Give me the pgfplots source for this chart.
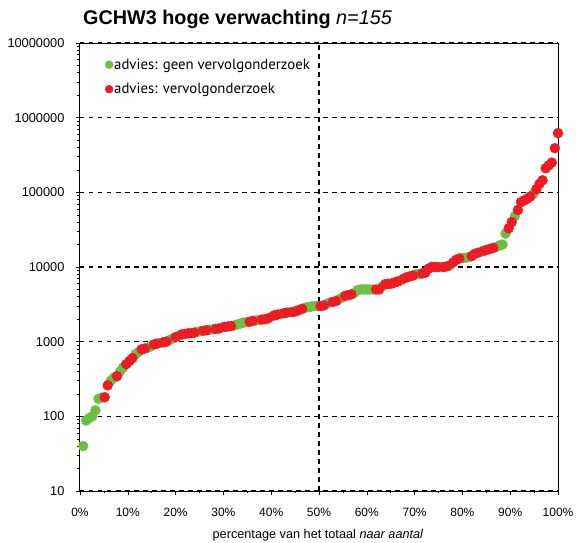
\documentclass[border=0pt]{standalone}
\usepackage{pgfplots}
\pgfplotsset{compat=1.18}
\usepackage{pgfplotstable}
\usepackage{fontspec}
\setmainfont{Liberation Sans}
\newfontfamily\legendfont{PT Sans}
\definecolor{cgreen}{RGB}{110,190,68}
\definecolor{cred}{RGB}{237,28,36}

\pgfplotstableread{
x y
0.65 40
1.29 88
1.94 95
2.58 100
3.23 120
3.87 172
4.52 178
6.45 300
7.10 330
8.39 400
9.03 450
11.61 680
12.26 730
14.19 830
14.84 870
16.77 960
18.71 1050
19.35 1100
20.65 1200
24.52 1350
25.16 1380
27.10 1450
27.74 1460
29.68 1550
32.26 1650
32.90 1700
33.55 1750
34.19 1800
34.84 1820
36.77 1920
37.42 1950
40.00 2150
41.94 2350
43.87 2480
47.10 2850
47.74 2900
48.39 2950
49.03 3000
49.68 3000
51.61 3200
52.26 3350
54.19 3700
54.84 3900
57.42 4500
58.06 4900
58.71 5000
59.35 5000
60.00 5000
60.65 5000
61.29 5000
63.23 5500
67.10 6600
70.32 8000
70.97 8000
75.48 10000
77.42 10500
80.00 13200
80.65 13300
81.29 13500
83.87 16000
87.10 18500
87.74 19500
88.39 20000
89.03 28000
90.97 48000
94.84 95000
}\greendata

\pgfplotstableread{
x y
5.16 180
5.81 260
7.74 345
9.68 500
10.32 550
10.97 600
12.90 790
13.55 810
15.48 920
16.13 940
17.42 980
18.06 1000
20.00 1150
21.29 1250
21.94 1270
22.58 1290
23.23 1300
23.87 1320
25.81 1400
26.45 1420
28.39 1480
29.03 1500
30.32 1580
30.97 1600
31.61 1620
35.48 1850
36.13 1900
38.06 1980
38.71 2000
39.35 2050
40.65 2250
41.29 2300
42.58 2400
43.23 2450
44.52 2500
45.16 2550
45.81 2650
46.45 2750
50.32 3000
50.97 3050
52.90 3400
53.55 3500
55.48 4100
56.13 4200
56.77 4300
61.94 5000
62.58 5000
63.87 5900
64.52 5950
65.16 6000
65.81 6200
66.45 6400
67.74 7000
68.39 7300
69.03 7500
69.68 7700
71.61 8200
72.26 8400
72.90 9500
73.55 10000
74.19 10000
74.84 10000
76.13 10000
76.77 10200
78.06 11500
78.71 12500
79.35 13000
81.94 14000
82.58 15000
83.23 15500
84.52 16500
85.16 17000
85.81 17500
86.45 18000
89.68 33000
90.32 40000
91.61 58000
92.26 74000
92.90 78000
93.55 82000
94.19 88000
95.48 110000
96.13 130000
96.77 145000
97.42 210000
98.06 230000
98.71 250000
99.35 390000
100.00 620000
}\reddata

\begin{document}
\begin{tikzpicture}
\useasboundingbox (-80pt,-51pt) rectangle (496pt,491pt);
\begin{axis}[
  at={(0,0)}, anchor=south west,
  scale only axis, width=478pt, height=448pt,
  ymode=log, log basis y=10,
  xmin=0, xmax=100, ymin=10, ymax=10000000,
  xtick={0,10,20,30,40,50,60,70,80,90,100},
  xticklabel={\pgfmathprintnumber{\tick}\%},
  minor x tick num=1,
  ytick={10,100,1000,10000,100000,1000000,10000000},
  yticklabels={10,100,1000,10000,100000,1000000,10000000},
  minor ytick={20,30,40,50,60,70,80,90,200,300,400,500,600,700,800,900,2000,3000,4000,5000,6000,7000,8000,9000,20000,30000,40000,50000,60000,70000,80000,90000,200000,300000,400000,500000,600000,700000,800000,900000,2000000,3000000,4000000,5000000,6000000,7000000,8000000,9000000},
  xtick pos=bottom, ytick pos=left,
  tick align=outside,
  major tick length=4pt, minor tick length=2.5pt,
  every tick/.style={black, line width=0.6pt},
  axis line style={line width=1pt},
  ymajorgrids,
  grid style={black, line width=1.6pt, dash pattern=on 4.5pt off 4.5pt},
  extra x ticks={50}, extra x tick labels={},
  extra x tick style={grid=major, major tick length=0pt, grid style={black, line width=1.3pt, dash pattern=on 5pt off 4pt}},
  xticklabel style={font=\fontsize{12}{14}\selectfont, yshift=-10pt},
  yticklabel style={font=\fontsize{12.8}{14}\selectfont, xshift=-8pt},
  /pgf/number format/assume math mode=true,
  legend style={at={(axis description cs:0.046,0.972)}, anchor=north west,
    draw=none, fill=none, font=\legendfont\fontsize{14.8}{16}\selectfont,
    row sep=10.5pt, nodes={inner sep=1pt}},
  legend cell align=left,
  legend image code/.code={\draw[#1, mark size=4pt] plot coordinates {(0pt,0pt)};},
]
\addplot[only marks, mark=*, mark size=5pt, color=cgreen, mark options={draw=none, fill=cgreen}] table[x=x,y=y] {\greendata};
\addlegendentry{advies: geen vervolgonderzoek}
\addplot[only marks, mark=*, mark size=5pt, color=cred, mark options={draw=none, fill=cred}] table[x=x,y=y] {\reddata};
\addlegendentry{advies: vervolgonderzoek}
\end{axis}
\node[anchor=base west, inner sep=0pt, font=\fontsize{19.8}{22}\selectfont] at (3pt,466pt) {\textbf{GCHW3 hoge verwachting} \textit{n=155}};
\node[anchor=base, inner sep=0pt, font=\fontsize{12.7}{14}\selectfont] at (238pt,-47pt) {percentage van het totaal \textit{naar aantal}};
\end{tikzpicture}
\end{document}
